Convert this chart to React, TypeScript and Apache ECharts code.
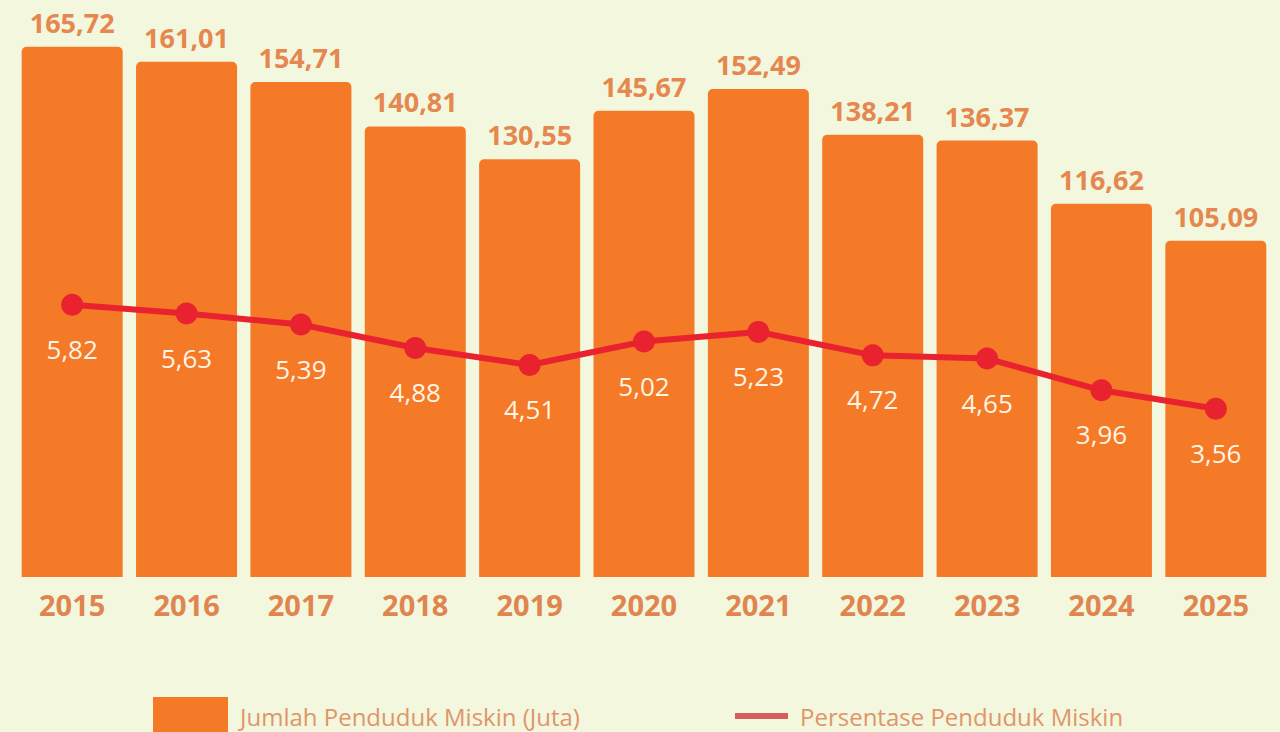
import React, { useEffect, useRef } from "react";
import * as echarts from "echarts";

const years = ["2015", "2016", "2017", "2018", "2019", "2020", "2021", "2022", "2023", "2024", "2025"];
const poorPeople = [165.72, 161.01, 154.71, 140.81, 130.55, 145.67, 152.49, 138.21, 136.37, 116.62, 105.09];
const poorPercent = [5.82, 5.63, 5.39, 4.88, 4.51, 5.02, 5.23, 4.72, 4.65, 3.96, 3.56];
const barName = "Jumlah Penduduk Miskin (Juta)";
const lineName = "Persentase Penduduk Miskin";

const fmt = (v: number) => v.toFixed(2).replace(".", ",");

export default function App() {
  const ref = useRef<HTMLDivElement>(null);
  useEffect(() => {
    if (!ref.current) return;
    const chart = echarts.init(ref.current, undefined, { renderer: "svg" });
    const legendText = {
      color: "#E0956A",
      fontSize: 24,
      fontFamily: "Open Sans",
      lineHeight: 30,
      padding: [0, 0, 0, 7],
    };
    chart.setOption({
      animation: false,
      backgroundColor: "#F2F7DE",
      textStyle: { fontFamily: "Open Sans" },
      grid: { left: 15, right: 7, top: 33, bottom: 155, containLabel: false },
      legend: [
        {
          data: [{ name: barName, icon: "rect" }],
          left: 153,
          top: 697,
          padding: 0,
          itemWidth: 75,
          itemHeight: 38,
          textStyle: legendText,
          selectedMode: false,
        },
        {
          data: [{ name: lineName, icon: "rect" }],
          left: 735,
          top: 701,
          padding: 0,
          itemWidth: 53,
          itemHeight: 6,
          itemStyle: { color: "#D55F5A" },
          textStyle: legendText,
          selectedMode: false,
        },
      ],
      xAxis: {
        type: "category",
        data: years,
        axisLine: { show: false },
        axisTick: { show: false },
        axisLabel: { color: "#E0854F", fontSize: 29, fontWeight: "bold", margin: 13 },
      },
      yAxis: [
        { type: "value", min: 0, max: 170, show: false, splitLine: { show: false } },
        { type: "value", min: -0.1, max: 11.73, show: false, splitLine: { show: false } },
      ],
      series: [
        {
          name: barName,
          type: "bar",
          data: poorPeople,
          barWidth: 101,
          itemStyle: { color: "#F47A28", borderRadius: [5, 5, 0, 0] },
          label: {
            show: true,
            position: "top",
            distance: 11,
            color: "#E5874E",
            fontSize: 27,
            fontWeight: "bold",
            formatter: (p: any) => fmt(p.value),
          },
        },
        {
          name: lineName,
          type: "line",
          yAxisIndex: 1,
          data: poorPercent,
          symbol: "circle",
          symbolSize: 22,
          lineStyle: { color: "#E8222E", width: 6 },
          itemStyle: { color: "#E8222E" },
          label: {
            show: true,
            position: "bottom",
            distance: 20,
            color: "#FFF4E6",
            fontSize: 26,
            formatter: (p: any) => fmt(p.value),
          },
        },
      ],
    });
    return () => chart.dispose();
  }, []);
  return <div ref={ref} style={{ position: "fixed", left: 0, top: 0, width: 1280, height: 732 }} />;
}
